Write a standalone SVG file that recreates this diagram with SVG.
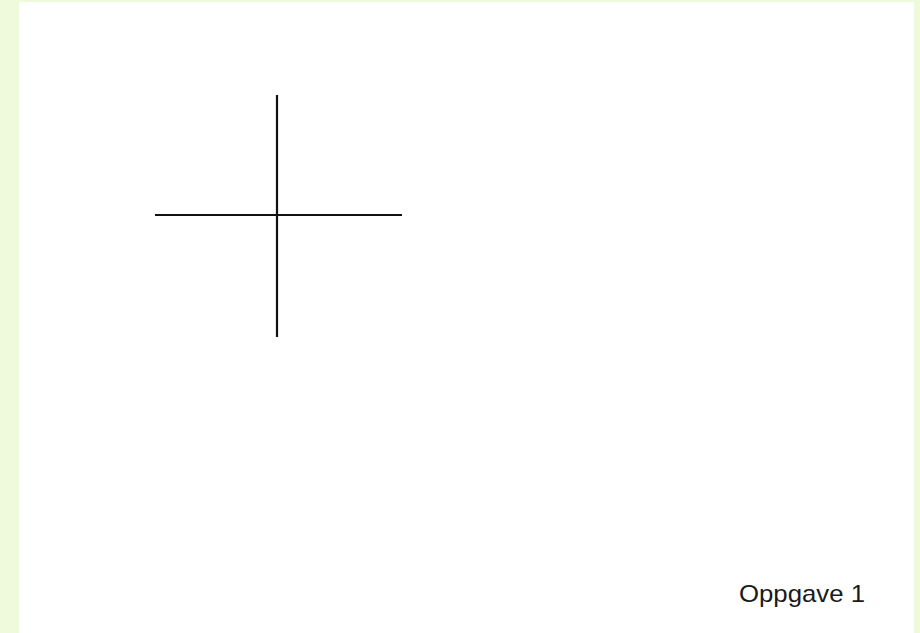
<svg xmlns="http://www.w3.org/2000/svg" width="920" height="633" viewBox="0 0 920 633">
<style>
.axis{stroke:#111;stroke-width:2.2;fill:none}
.lbl{font-family:"Liberation Sans",Arial,sans-serif;font-size:24px;fill:#1a1a1a}
</style>
<rect x="0" y="0" width="920" height="633" fill="#eff9dc"/>
<rect x="19" y="2" width="895" height="631" fill="#ffffff"/>
<g id="connectors">
<line class="axis" x1="277" y1="95" x2="277" y2="337"/>
<line class="axis" x1="155" y1="215" x2="402" y2="215"/>
</g>
<g id="label">
<text class="lbl" x="739" y="602" textLength="126" lengthAdjust="spacingAndGlyphs">Oppgave 1</text>
</g>
</svg>
